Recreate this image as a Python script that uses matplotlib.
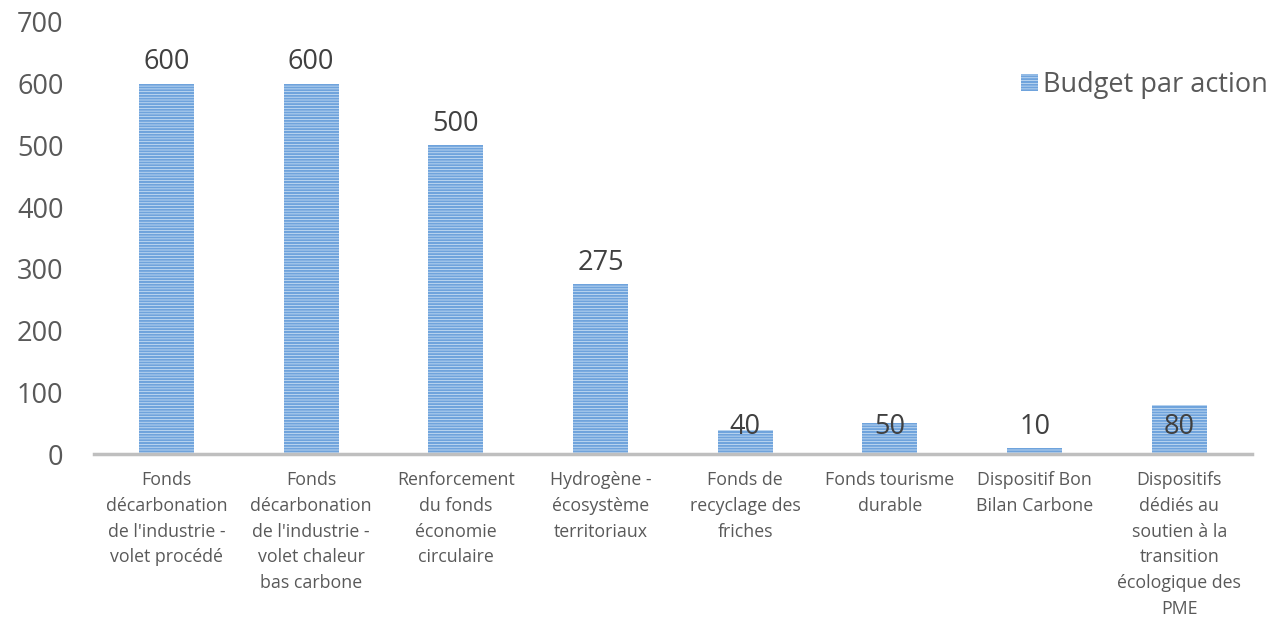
import matplotlib
matplotlib.use("Agg")
import matplotlib.pyplot as plt

categories = [
    "Fonds\ndécarbonation\nde l'industrie -\nvolet procédé",
    "Fonds\ndécarbonation\nde l'industrie -\nvolet chaleur\nbas carbone",
    "Renforcement\ndu fonds\néconomie\ncirculaire",
    "Hydrogène -\nécosystème\nterritoriaux",
    "Fonds de\nrecyclage des\nfriches",
    "Fonds tourisme\ndurable",
    "Dispositif Bon\nBilan Carbone",
    "Dispositifs\ndédiés au\nsoutien à la\ntransition\nécologique des\nPME",
]
values = [600, 600, 500, 275, 40, 50, 10, 80]
series_name = "Budget par action"
yticks = [0, 100, 200, 300, 400, 500, 600, 700]

plt.rcParams['font.family'] = ['Open Sans', 'DejaVu Sans']
plt.rcParams['hatch.linewidth'] = 1.5
grey = '#595959'

fig = plt.figure(figsize=(12.72, 6.24), dpi=100)
ax = fig.add_axes([0.074, 0.272, 0.910, 0.693])

x = list(range(len(values)))
bars = ax.bar(x, values, width=0.38, color='#D6E7F7', edgecolor='#6FA3DC',
              linewidth=0, hatch='------', label=series_name, zorder=2)

for xi, v in zip(x, values):
    if v >= 100:
        ax.annotate(str(v), (xi, v), xytext=(0, 10.5), textcoords='offset points',
                    ha='center', va='baseline', fontsize=19.5, color='#404040', zorder=3)
    else:
        ax.text(xi, 33, str(v), ha='center', va='baseline', fontsize=19.5,
                color='#404040', zorder=3)

ax.set_xlim(-0.5, len(values) - 0.5)
ax.set_ylim(0, 700)
ax.set_yticks(yticks)
ax.set_yticklabels([str(t) for t in yticks], fontsize=19.5, color=grey)
ax.set_xticks(x)
ax.set_xticklabels(categories, fontsize=12.8, color=grey, linespacing=1.56, va='top')
ax.tick_params(axis='y', length=0, pad=22)
ax.tick_params(axis='x', length=0, pad=12)
for s in ['top', 'right', 'left']:
    ax.spines[s].set_visible(False)
ax.spines['bottom'].set_color('#BFBFBF')
ax.spines['bottom'].set_linewidth(2.5)
ax.spines['bottom'].set_zorder(4)

leg = fig.legend(loc='center right', bbox_to_anchor=(1.016, 0.864), frameon=False,
                 fontsize=19.5, handlelength=0.6, handleheight=0.6, handletextpad=0.2,
                 labelcolor=grey)

fig.savefig("out.png", dpi=100)
